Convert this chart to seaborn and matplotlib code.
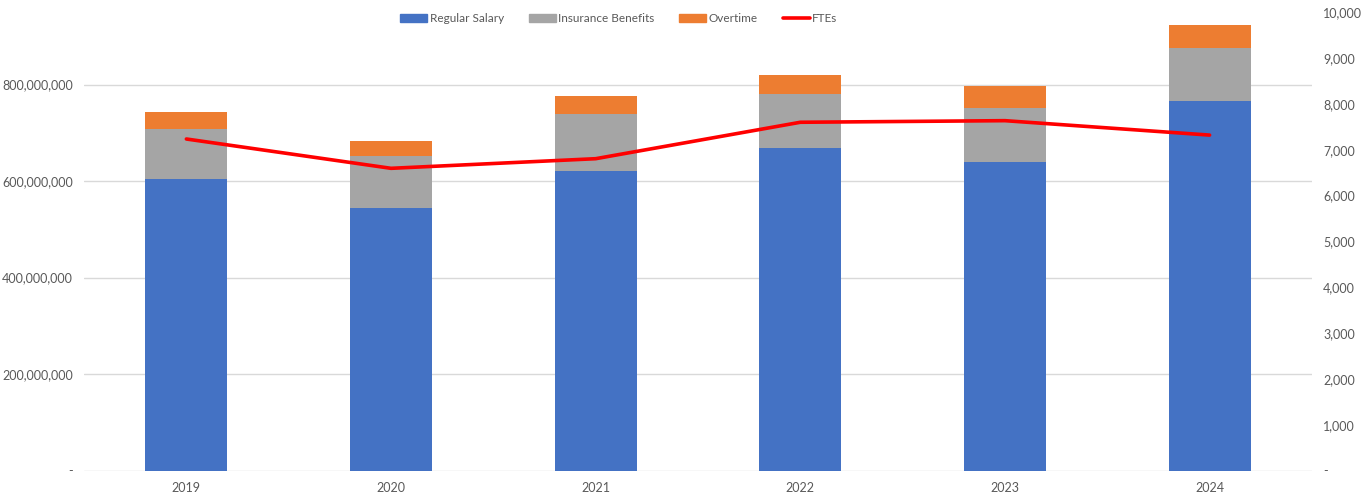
import matplotlib
matplotlib.use("Agg")
import matplotlib.pyplot as plt
import matplotlib.ticker as mticker
from matplotlib.patches import Patch
from matplotlib.lines import Line2D
import seaborn as sns
import numpy as np
import pandas as pd

sns.set_style("white")
plt.rcParams['font.family'] = ['Lato', 'DejaVu Sans']

# values
years = ["2019", "2020", "2021", "2022", "2023", "2024"]
regular_salary = [604e6, 545e6, 621e6, 669e6, 639e6, 766e6]
insurance_benefits = [104e6, 108e6, 119e6, 111e6, 112e6, 111e6]
overtime = [36e6, 31e6, 36e6, 39e6, 46e6, 46e6]
ftes = [7235, 6595, 6805, 7600, 7635, 7320]

c_blue, c_gray, c_orange, c_red = "#4472C4", "#A5A5A5", "#ED7D31", "#FF0000"
txt = "#595959"

df = pd.DataFrame({"year": years, "reg": regular_salary,
                   "ins": insurance_benefits, "ot": overtime, "fte": ftes})
df["cum_ins"] = df["reg"] + df["ins"]
df["cum_ot"] = df["cum_ins"] + df["ot"]

fig = plt.figure(figsize=(13.69, 4.96), dpi=100)
ax = fig.add_axes([0.0614, 0.0514, 0.8969, 0.9238])

# stacked bars: draw totals first, then overlap the lower segments
for col, c in [("cum_ot", c_orange), ("cum_ins", c_gray), ("reg", c_blue)]:
	sns.barplot(data=df, x="year", y=col, color=c, saturation=1, width=0.4,
				linewidth=0, ax=ax, zorder=2)

ax.set_xlim(-0.5, len(years) - 0.5)
ax.set_ylim(0, 950e6)
ax.set_yticks(np.arange(0, 900e6, 200e6))
ax.yaxis.set_major_formatter(mticker.FuncFormatter(lambda v, p: "-" if v == 0 else f"{v:,.0f}"))
ax.set_xlabel("")
ax.set_ylabel("")
ax.grid(axis="y", color="#D9D9D9", linewidth=1)
ax.set_axisbelow(True)
for s in ax.spines.values():
	s.set_visible(False)
ax.tick_params(axis="both", length=0, labelsize=9, labelcolor=txt, pad=8)

ax2 = ax.twinx()
sns.lineplot(x=np.arange(len(years)), y=df["fte"], color=c_red, linewidth=2.6, ax=ax2)
ax2.set_ylim(0, 10000)
ax2.set_yticks(np.arange(0, 10001, 1000))
ax2.yaxis.set_major_formatter(mticker.FuncFormatter(lambda v, p: "-" if v == 0 else f"{v:,.0f}"))
ax2.set_ylabel("")
for s in ax2.spines.values():
	s.set_visible(False)
ax2.tick_params(axis="y", length=0, labelsize=9, labelcolor=txt, pad=8)

handles = [Patch(color=c_blue), Patch(color=c_gray), Patch(color=c_orange),
		   Line2D([0], [0], color=c_red, linewidth=2.6)]
labels = ["Regular Salary", "Insurance Benefits", "Overtime", "FTEs"]
fig.legend(handles, labels, loc="center", bbox_to_anchor=(0.452, 0.962), ncol=4,
		   frameon=False, fontsize=8.5, labelcolor=txt, handlelength=2.3,
		   handleheight=0.6, handletextpad=0.2, columnspacing=2.1)

fig.savefig("out.png", dpi=100)
